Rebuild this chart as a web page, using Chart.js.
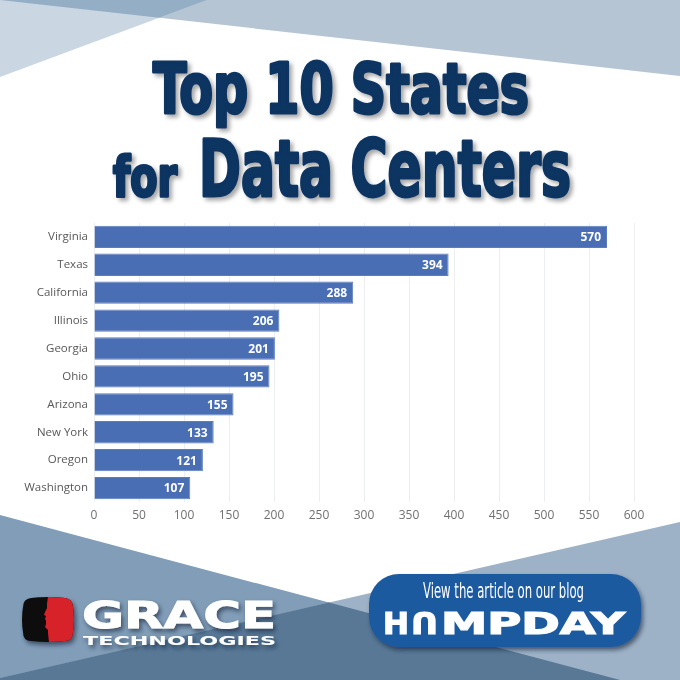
<!DOCTYPE html>
<html>
<head>
<meta charset="utf-8">
<script src="https://cdn.jsdelivr.net/npm/chart.js@4.4.1/dist/chart.umd.min.js"></script>
<style>
  html, body { margin:0; padding:0; background:#ffffff; }
  #page { position:relative; width:680px; height:680px; overflow:hidden; background:#ffffff; }
  #bg, #fg { position:absolute; left:0; top:0; }
  #fg { pointer-events:none; }
  #chartBox { position:absolute; left:0; top:210px; width:680px; height:320px; }
</style>
</head>
<body>
<div id="page">
  <svg id="bg" width="680" height="680" xmlns="http://www.w3.org/2000/svg">
    <polygon points="0,0 680,0 680,76" fill="#b6c5d3"/>
    <polygon points="0,0 207,0 0,77" fill="#cad7e3"/>
    <polygon points="0,0 207,0 159,17.8" fill="#94aec6"/>
    <polygon points="0,515 620,680 0,680" fill="#819db7"/>
    <polygon points="680,522 680,680 0,680 0,678" fill="#9db2c6"/>
    <polygon points="0,678 329,602.5 620,680 0,680" fill="#587896"/>
  </svg>
  <div id="chartBox"><canvas id="chart"></canvas></div>
  <svg id="fg" width="680" height="680" xmlns="http://www.w3.org/2000/svg">
    <defs>
      <filter id="sh" x="-10%" y="-20%" width="130%" height="150%">
        <feDropShadow dx="3" dy="3" stdDeviation="2" flood-color="#000" flood-opacity="0.35"/>
      </filter>
      <filter id="sh2" x="-10%" y="-20%" width="130%" height="160%">
        <feDropShadow dx="2" dy="3" stdDeviation="2" flood-color="#102030" flood-opacity="0.6"/>
      </filter>
      <clipPath id="iconClip">
        <path d="M31,598 Q48,596 65,598 Q73,599 73,607 Q75,619.5 73,632 Q73,641 65,641 Q48,643 31,641 Q23,641 23,632 Q21,619.5 23,607 Q23,599 31,598 Z"/>
      </clipPath>
    </defs>
    <!-- Title -->
    <g font-family="'Liberation Sans Narrow','DejaVu Sans Condensed','Arial Narrow',sans-serif" font-weight="bold" fill="#0e3462" stroke="#0e3462" stroke-width="3" stroke-linejoin="round" filter="url(#sh)">
      <text x="153" y="113" font-size="70" textLength="376" lengthAdjust="spacingAndGlyphs">Top 10 States</text>
      <text x="113" y="196" font-size="55" textLength="64" lengthAdjust="spacingAndGlyphs">for</text>
      <text x="199" y="196" font-size="78" textLength="372" lengthAdjust="spacingAndGlyphs">Data Centers</text>
    </g>
    <!-- Grace logo -->
    <g filter="url(#sh2)">
      <path d="M31,598 Q48,596 65,598 Q73,599 73,607 Q75,619.5 73,632 Q73,641 65,641 Q48,643 31,641 Q23,641 23,632 Q21,619.5 23,607 Q23,599 31,598 Z" fill="#0a0a0a"/>
      <polygon clip-path="url(#iconClip)" fill="#d8232a" points="48,596 47,604 47,608 45,612 44,615 46,616 45,619 46,621 46,624 45,627 48,630 48,633 49,643 76,643 76,596"/>
    </g>
    <g font-family="'DejaVu Sans',sans-serif" font-weight="bold" fill="#ffffff" filter="url(#sh2)">
      <text x="82" y="628" font-size="38" stroke="#ffffff" stroke-width="1" textLength="194" lengthAdjust="spacingAndGlyphs">GRACE</text>
      <text x="83" y="644.5" font-size="12.5" textLength="193" lengthAdjust="spacingAndGlyphs">TECHNOLOGIES</text>
    </g>
    <!-- Humpday button -->
    <rect x="369" y="574" width="272" height="73" rx="30" ry="30" fill="#1f5aa0" filter="url(#sh2)"/>
    <text x="423" y="598" font-family="'Liberation Sans Narrow','DejaVu Sans Condensed',sans-serif" font-size="22" fill="#ffffff" textLength="161" lengthAdjust="spacingAndGlyphs">View the article on our blog</text>
    <g font-family="'DejaVu Sans',sans-serif" font-weight="bold" font-size="30" fill="#ffffff" stroke="#ffffff" stroke-width="1.2">
      <text x="383" y="634" textLength="26" lengthAdjust="spacingAndGlyphs">H</text>
      <text x="411" y="634" textLength="27" lengthAdjust="spacingAndGlyphs" transform="rotate(180 424.5 623)">U</text>
      <text x="441" y="634" textLength="184" lengthAdjust="spacingAndGlyphs">MPDAY</text>
    </g>
  </svg>
</div>
<script>
const states = ['Virginia', 'Texas', 'California', 'Illinois', 'Georgia', 'Ohio', 'Arizona', 'New York', 'Oregon', 'Washington'];
const dataCenters = [570, 394, 288, 206, 201, 195, 155, 133, 121, 107];
const xTickValues = [0, 50, 100, 150, 200, 250, 300, 350, 400, 450, 500, 550, 600];

const valueLabels = {
  id: 'valueLabels',
  afterDatasetsDraw(chart) {
    const ctx = chart.ctx;
    const meta = chart.getDatasetMeta(0);
    const values = chart.data.datasets[0].data;
    ctx.save();
    ctx.font = 'bold 12px "Open Sans", sans-serif';
    ctx.fillStyle = '#ffffff';
    ctx.textAlign = 'right';
    ctx.textBaseline = 'middle';
    meta.data.forEach((bar, i) => {
      ctx.fillText(String(values[i]), bar.x - 6, bar.y + 1);
    });
    ctx.restore();
  }
};

new Chart(document.getElementById('chart'), {
  type: 'bar',
  data: {
    labels: states,
    datasets: [{
      data: dataCenters,
      backgroundColor: '#4a6eb4',
      borderColor: '#5a7dbf',
      borderWidth: 1,
      barPercentage: 0.8,
      categoryPercentage: 1.0
    }]
  },
  options: {
    indexAxis: 'y',
    responsive: true,
    maintainAspectRatio: false,
    animation: false,
    layout: { padding: { left: 0, right: 46, top: 7, bottom: 0 } },
    plugins: { legend: { display: false }, tooltip: { enabled: false } },
    scales: {
      x: {
        min: 0,
        max: 600,
        afterBuildTicks(scale) { scale.ticks = xTickValues.map(v => ({ value: v })); },
        afterFit(scale) { scale.height = 28; },
        grid: { color: '#eceef1', drawTicks: false },
        border: { display: false },
        ticks: { color: '#707070', padding: 6, font: { family: '"Open Sans", sans-serif', size: 12 } }
      },
      y: {
        afterFit(scale) { scale.width = 94; },
        grid: { display: false, drawTicks: false },
        border: { display: false },
        ticks: { color: '#585858', padding: 6, font: { family: '"Open Sans", sans-serif', size: 11.5 } }
      }
    }
  },
  plugins: [valueLabels]
});
</script>
</body>
</html>
